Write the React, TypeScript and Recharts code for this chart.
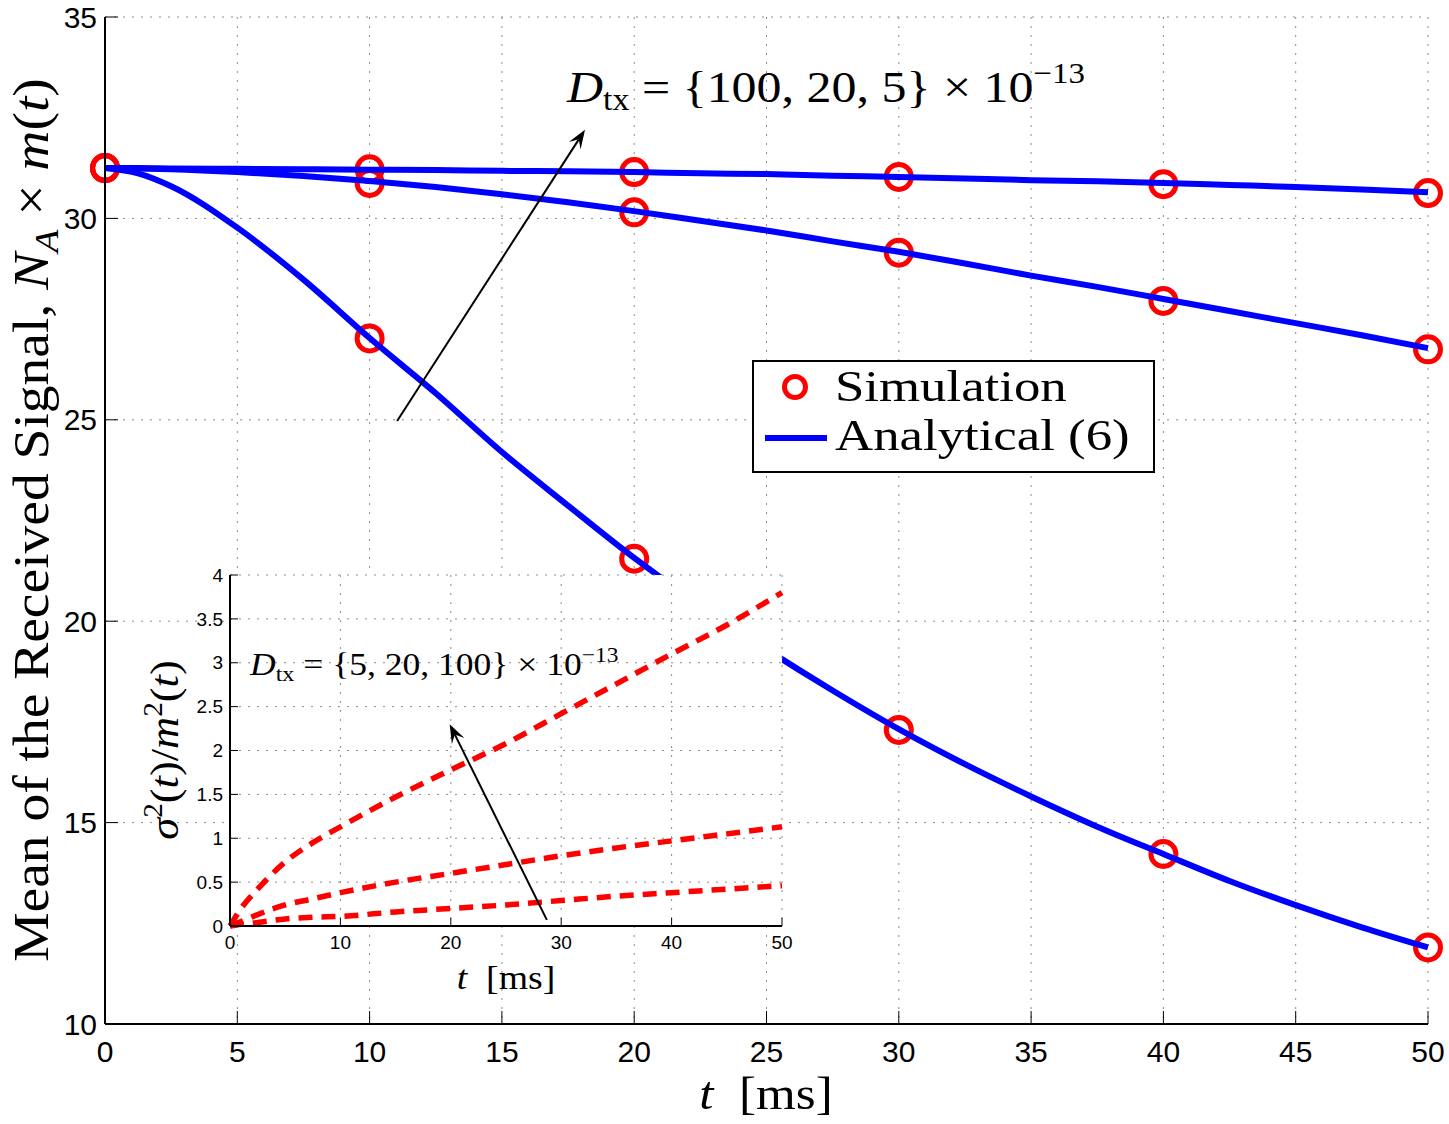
import React from 'react';
import {
  ComposedChart,
  LineChart,
  Line,
  Scatter,
  XAxis,
  YAxis,
  CartesianGrid,
  ReferenceLine,
  Legend
} from 'recharts';

// ---- main plot data ----
const xTicks = [0, 5, 10, 15, 20, 25, 30, 35, 40, 45, 50];
const yTicks = [10, 15, 20, 25, 30, 35];

const analyticT = [0, 1.25, 2.5, 5, 7.5, 10, 12.5, 15, 17.5, 20, 22.5, 25, 27.5, 30, 32.5, 35, 37.5, 40, 42.5, 45, 47.5, 50];
const analyticD100 = [31.25, 31.25, 31.24, 31.23, 31.22, 31.21, 31.2, 31.18, 31.17, 31.15, 31.12, 31.1, 31.06, 31.03, 30.99, 30.95, 30.92, 30.88, 30.83, 30.78, 30.72, 30.65];
const analyticD20 = [31.25, 31.24, 31.22, 31.15, 31.05, 30.93, 30.78, 30.6, 30.4, 30.18, 29.94, 29.7, 29.43, 29.17, 28.88, 28.58, 28.3, 28.0, 27.7, 27.4, 27.1, 26.78];
const analyticD5 = [31.25, 31.12, 30.8, 29.77, 28.48, 27.03, 25.66, 24.2, 22.87, 21.57, 20.38, 19.3, 18.28, 17.32, 16.45, 15.65, 14.9, 14.22, 13.55, 12.95, 12.4, 11.9];

const simT = [0, 10, 20, 30, 40, 50];
const simD100 = [31.25, 31.22, 31.15, 31.03, 30.85, 30.63];
const simD20 = [31.25, 30.88, 30.15, 29.15, 27.95, 26.75];
const simD5 = [31.25, 27.02, 21.55, 17.3, 14.22, 11.9];

// ---- inset data ----
const insetXTicks = [0, 10, 20, 30, 40, 50];
const insetYTicks = [0, 0.5, 1, 1.5, 2, 2.5, 3, 3.5, 4];
const insetT = [0, 1, 2.5, 5, 7.5, 10, 15, 20, 25, 30, 35, 40, 45, 50];
const ratioD5 = [0, 0.2, 0.42, 0.73, 0.95, 1.13, 1.47, 1.78, 2.08, 2.42, 2.76, 3.1, 3.43, 3.8];
const ratioD20 = [0, 0.05, 0.13, 0.24, 0.31, 0.38, 0.5, 0.6, 0.7, 0.8, 0.89, 0.97, 1.05, 1.13];
const ratioD100 = [0, 0.02, 0.04, 0.08, 0.1, 0.11, 0.16, 0.2, 0.24, 0.29, 0.34, 0.38, 0.42, 0.46];

// arrow annotations (data coordinates)
const mainArrow = [{ x: 11.04, y: 24.97 }, { x: 18.14, y: 32.2 }];
const insetArrow = [{ x: 28.7, y: 0.07 }, { x: 19.9, y: 2.3 }];

const zip = (ts: number[], vs: number[]) => ts.map((t, i) => ({ t, v: vs[i] }));

const serif = '"Liberation Serif", "Times New Roman", serif';
const sans = '"Liberation Sans", Arial, Helvetica, sans-serif';
const BLUE = '#0000ff';
const RED = '#ff0000';

function ArrowShape(props: any) {
  const { x1, y1, x2, y2 } = props;
  const ang = Math.atan2(y2 - y1, x2 - x1);
  const c = Math.cos(ang);
  const s = Math.sin(ang);
  const len = 19;
  const w = 7;
  const bx = x2 - len * c;
  const by = y2 - len * s;
  const nx = x2 - len * 0.6 * c;
  const ny = y2 - len * 0.6 * s;
  const pts = [
    `${x2},${y2}`,
    `${bx - s * w},${by + c * w}`,
    `${nx},${ny}`,
    `${bx + s * w},${by - c * w}`
  ].join(' ');
  return (
    <g>
      <line x1={x1} y1={y1} x2={nx} y2={ny} stroke="#000" strokeWidth={2} />
      <polygon points={pts} fill="#000" />
    </g>
  );
}

function Sub({ children }: { children: React.ReactNode }) {
  return <span style={{ fontSize: '0.68em', position: 'relative', top: '0.28em' }}>{children}</span>;
}

function Sup({ children }: { children: React.ReactNode }) {
  return <span style={{ fontSize: '0.66em', position: 'relative', top: '-0.62em' }}>{children}</span>;
}

// text placed by its baseline (line-height 0.85)
function TexAt({ left, baseline, size, children }: { left: number; baseline: number; size: number; children: React.ReactNode }) {
  return (
    <div
      style={{
        position: 'absolute',
        left,
        top: baseline - 0.7625 * size,
        fontSize: size,
        lineHeight: 0.85,
        fontFamily: serif,
        whiteSpace: 'nowrap',
        transform: 'scaleX(1.11)',
        transformOrigin: '0 0',
        color: '#000'
      }}
    >
      {children}
    </div>
  );
}

// text centered on a point, optionally rotated
function TexCentered({ cx, cy, size, rotate = 0, children }: { cx: number; cy: number; size: number; rotate?: number; children: React.ReactNode }) {
  return (
    <div
      style={{
        position: 'absolute',
        left: cx,
        top: cy,
        fontSize: size,
        lineHeight: 1,
        fontFamily: serif,
        whiteSpace: 'nowrap',
        transform: `translate(-50%, -50%) rotate(${rotate}deg) scaleX(1.11)`,
        color: '#000'
      }}
    >
      {children}
    </div>
  );
}

const legendText = {
  position: 'absolute' as const,
  left: 81,
  fontSize: 44,
  lineHeight: 0.85,
  transform: 'scaleX(1.2)',
  transformOrigin: '0 0',
  whiteSpace: 'nowrap' as const
};

function LegendBox() {
  return (
    <div
      style={{
        width: 399,
        height: 109,
        border: '2px solid #000',
        background: '#fff',
        position: 'relative',
        fontFamily: serif
      }}
    >
      <svg width={80} height={109} style={{ position: 'absolute', left: 0, top: 0 }}>
        <circle cx={41} cy={25} r={10.5} fill="none" stroke={RED} strokeWidth={5} />
        <line x1={11} y1={76} x2={73} y2={76} stroke={BLUE} strokeWidth={6} />
      </svg>
      <div style={{ ...legendText, top: 40 - 0.7625 * 44 }}>Simulation</div>
      <div style={{ ...legendText, top: 89 - 0.7625 * 44 }}>Analytical (6)</div>
    </div>
  );
}

const tickStyle = { fill: '#000', fontSize: 30, fontFamily: sans };
const insetTickStyle = { fill: '#000', fontSize: 19, fontFamily: sans };

export default function App() {
  const circle = (p: any) => (
    <circle cx={p.cx} cy={p.cy} r={12.5} fill="none" stroke={RED} strokeWidth={5} />
  );

  return (
    <div style={{ position: 'absolute', left: 0, top: 0, width: 1449, height: 1124, background: '#fff' }}>
      <ComposedChart width={1449} height={1124} margin={{ top: 17, right: 21, bottom: 0, left: 0 }}>
        <CartesianGrid stroke="#8a8a8a" strokeDasharray="2 7" strokeWidth={1} />
        <XAxis
          dataKey="t"
          type="number"
          domain={[0, 50]}
          ticks={xTicks}
          interval={0}
          height={100}
          tick={tickStyle}
          tickSize={-13}
          tickMargin={30}
          axisLine={{ stroke: '#000', strokeWidth: 2 }}
          tickLine={{ stroke: '#000', strokeWidth: 1 }}
        />
        <YAxis
          type="number"
          domain={[10, 35]}
          ticks={yTicks}
          interval={0}
          width={105}
          tick={tickStyle}
          tickSize={-13}
          tickMargin={21}
          axisLine={{ stroke: '#000', strokeWidth: 2 }}
          tickLine={{ stroke: '#000', strokeWidth: 1 }}
        />
        <XAxis
          xAxisId="top"
          orientation="top"
          type="number"
          domain={[0, 50]}
          ticks={xTicks}
          interval={0}
          height={0}
          tick={false}
          tickSize={-13}
          axisLine={{ stroke: '#000', strokeWidth: 2 }}
          tickLine={{ stroke: '#000', strokeWidth: 1 }}
        />
        <YAxis
          yAxisId="right"
          orientation="right"
          type="number"
          domain={[10, 35]}
          ticks={yTicks}
          interval={0}
          width={0}
          tick={false}
          tickSize={-13}
          axisLine={{ stroke: '#000', strokeWidth: 2 }}
          tickLine={{ stroke: '#000', strokeWidth: 1 }}
        />
        <Scatter name="Simulation" data={zip(simT, simD100)} dataKey="v" shape={circle} isAnimationActive={false} zIndex={300} />
        <Scatter name="Simulation D20" data={zip(simT, simD20)} dataKey="v" shape={circle} isAnimationActive={false} zIndex={300} legendType="none" />
        <Scatter name="Simulation D5" data={zip(simT, simD5)} dataKey="v" shape={circle} isAnimationActive={false} zIndex={300} legendType="none" />
        <Line name="Analytical (6)" data={zip(analyticT, analyticD100)} dataKey="v" type="monotone" stroke={BLUE} strokeWidth={6} dot={false} isAnimationActive={false} />
        <Line data={zip(analyticT, analyticD20)} dataKey="v" type="monotone" stroke={BLUE} strokeWidth={6} dot={false} isAnimationActive={false} legendType="none" />
        <Line data={zip(analyticT, analyticD5)} dataKey="v" type="monotone" stroke={BLUE} strokeWidth={6} dot={false} isAnimationActive={false} legendType="none" />
        <ReferenceLine segment={mainArrow} shape={ArrowShape} ifOverflow="visible" />
        <Legend
          layout="horizontal"
          verticalAlign="middle"
          align="center"
          content={() => <LegendBox />}
          wrapperStyle={{ left: 752, top: 360, width: 403, height: 113 }}
        />
      </ComposedChart>

      {/* main annotations and axis labels */}
      <TexAt left={567} baseline={102} size={45}>
        <i>D</i><Sub>tx</Sub> = {'{'}100, 20, 5{'}'} × 10<Sup>−13</Sup>
      </TexAt>
      <TexCentered cx={766} cy={1094} size={46}>
        <i>t</i>&nbsp;&nbsp;[ms]
      </TexCentered>
      <TexCentered cx={31} cy={520} size={50} rotate={-90}>
        Mean of the Received Signal, <i>N</i><Sub><i>A</i></Sub> × <i>m</i>(<i>t</i>)
      </TexCentered>

      {/* inset */}
      <div style={{ position: 'absolute', left: 140, top: 560, width: 660, height: 450 }}>
        <LineChart width={660} height={450} margin={{ top: 15, right: 18, bottom: 0, left: 0 }}>
          <CartesianGrid stroke="#8a8a8a" strokeDasharray="2 7" strokeWidth={1} fill="#fff" fillOpacity={1} />
          <XAxis
            dataKey="t"
            type="number"
            domain={[0, 50]}
            ticks={insetXTicks}
            interval={0}
            height={84}
            tick={insetTickStyle}
            tickSize={-8}
            tickMargin={18}
            axisLine={{ stroke: '#000', strokeWidth: 2 }}
            tickLine={{ stroke: '#000', strokeWidth: 1 }}
          />
          <YAxis
            type="number"
            domain={[0, 4]}
            ticks={insetYTicks}
            interval={0}
            width={90}
            tick={insetTickStyle}
            tickSize={-8}
            tickMargin={15}
            axisLine={{ stroke: '#000', strokeWidth: 2 }}
            tickLine={{ stroke: '#000', strokeWidth: 1 }}
          />
          <XAxis
            xAxisId="top"
            orientation="top"
            type="number"
            domain={[0, 50]}
            ticks={insetXTicks}
            interval={0}
            height={0}
            tick={false}
            tickSize={-8}
            axisLine={{ stroke: '#000', strokeWidth: 2 }}
            tickLine={{ stroke: '#000', strokeWidth: 1 }}
          />
          <YAxis
            yAxisId="right"
            orientation="right"
            type="number"
            domain={[0, 4]}
            ticks={insetYTicks}
            interval={0}
            width={0}
            tick={false}
            tickSize={-8}
            axisLine={{ stroke: '#000', strokeWidth: 2 }}
            tickLine={{ stroke: '#000', strokeWidth: 1 }}
          />
          <Line data={zip(insetT, ratioD5)} dataKey="v" type="monotone" stroke={RED} strokeWidth={5.5} strokeDasharray="14 9" dot={false} isAnimationActive={false} />
          <Line data={zip(insetT, ratioD20)} dataKey="v" type="monotone" stroke={RED} strokeWidth={5.5} strokeDasharray="14 9" dot={false} isAnimationActive={false} />
          <Line data={zip(insetT, ratioD100)} dataKey="v" type="monotone" stroke={RED} strokeWidth={5.5} strokeDasharray="14 9" dot={false} isAnimationActive={false} />
          <ReferenceLine segment={insetArrow} shape={ArrowShape} ifOverflow="visible" />
        </LineChart>
      </div>
      <TexAt left={250} baseline={675} size={32}>
        <i>D</i><Sub>tx</Sub> = {'{'}5, 20, 100{'}'} × 10<Sup>−13</Sup>
      </TexAt>
      <TexCentered cx={506} cy={978} size={34}>
        <i>t</i>&nbsp;&nbsp;[ms]
      </TexCentered>
      <TexCentered cx={165} cy={750} size={40} rotate={-90}>
        <i>σ</i><Sup>2</Sup>(<i>t</i>)/<i>m</i><Sup>2</Sup>(<i>t</i>)
      </TexCentered>
    </div>
  );
}
